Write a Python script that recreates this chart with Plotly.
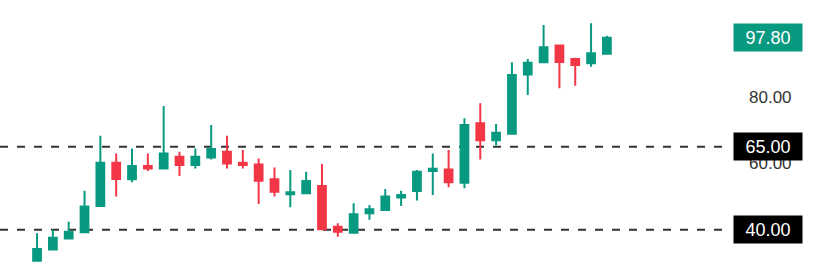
import plotly.graph_objects as go

idx = list(range(37))
opens  = [30.7, 34.1, 37.4, 39.3, 47.2, 60.2, 55.2, 59.2, 58.5, 62.0, 59.5, 61.8, 63.5, 60.2, 59.7, 55.2, 50.7, 51.0, 53.2, 40.9,
          39.1, 45.0, 46.0, 49.7, 51.7, 57.7, 58.2, 54.2, 72.1, 67.0, 68.9, 86.8, 90.45, 95.5, 91.4, 90.15, 93.0]
highs  = [39.0, 40.0, 42.4, 51.8, 68.3, 63.0, 64.5, 63.0, 77.3, 63.5, 64.5, 71.6, 68.3, 64.0, 61.5, 58.8, 58.0, 57.5, 59.8, 42.0,
          48.0, 47.5, 52.3, 51.8, 58.0, 63.0, 64.0, 73.6, 78.1, 71.9, 90.45, 91.4, 101.7, 95.5, 91.8, 102.2, 98.4]
lows   = [30.4, 34.0, 37.2, 39.2, 47.0, 50.0, 54.3, 57.7, 58.3, 56.2, 58.5, 61.2, 58.5, 58.5, 47.8, 50.0, 46.8, 50.9, 40.0, 37.9,
          38.8, 43.0, 46.0, 47.2, 48.8, 50.5, 52.8, 52.5, 61.2, 65.5, 68.8, 80.6, 90.15, 82.6, 83.4, 89.1, 92.9]
closes = [34.2, 37.6, 39.4, 47.0, 60.2, 55.3, 59.2, 58.5, 63.0, 59.5, 62.0, 64.3, 60.0, 59.5, 54.8, 51.5, 51.3, 54.7, 40.2, 39.4,
          44.7, 46.2, 50.0, 50.5, 57.5, 58.4, 54.3, 71.6, 67.0, 69.2, 86.6, 90.3, 95.0, 90.5, 89.6, 93.2, 97.8]

levels = [65.0, 40.0]
last_price = 97.80
tick_vals = [40, 60, 80, 100]
tick_text = ["40.00", "60.00", "80.00", "100.00"]

GREEN = "#089981"
RED = "#F23645"
W, H = 813, 275
plot_right = 728 / W

fig = go.Figure()
fig.add_trace(go.Candlestick(
    x=idx, open=opens, high=highs, low=lows, close=closes,
    increasing=dict(line=dict(color=GREEN, width=2), fillcolor=GREEN),
    decreasing=dict(line=dict(color=RED, width=2), fillcolor=RED),
    whiskerwidth=0, showlegend=False, hoverinfo="skip",
))

for lv in levels:
    fig.add_shape(type="line", xref="paper", yref="y", x0=0, x1=plot_right, y0=lv, y1=lv,
                  line=dict(color="#333333", width=2, dash="8px,9px"), layer="below")

def label(v, bg):
    fig.add_annotation(xref="paper", yref="y", x=768 / W, y=v, xanchor="center", yanchor="middle",
                       text=f"{v:.2f}", showarrow=False, bgcolor=bg,
                       font=dict(color="white", size=18, family="Liberation Sans, Arial"),
                       width=62, height=21, borderpad=3)

label(last_price, GREEN)
for lv in levels:
    label(lv, "#000000")

fig.update_layout(
    width=W, height=H, margin=dict(l=0, r=0, t=0, b=0),
    paper_bgcolor="white", plot_bgcolor="white",
    xaxis=dict(domain=[0, plot_right], range=[-2.34, 43.65], visible=False,
               rangeslider=dict(visible=False), showgrid=False, zeroline=False),
    yaxis=dict(side="right", range=[26.4, 109.2], showgrid=False, zeroline=False, showline=False,
               tickvals=tick_vals, ticktext=tick_text, ticks="", ticklabelstandoff=20,
               tickfont=dict(color="#333333", size=17, family="Liberation Sans, Arial")),
)

fig.write_html("out.html")
